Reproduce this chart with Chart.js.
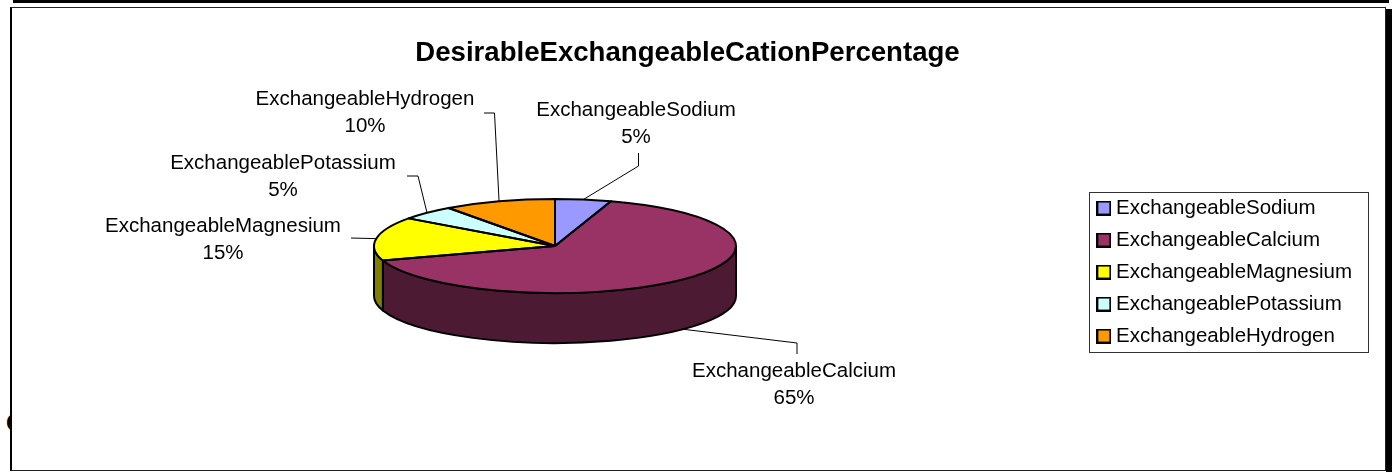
<!DOCTYPE html>
<html>
<head>
<meta charset="utf-8">
<style>
  html, body { margin: 0; padding: 0; background: #fff; overflow: hidden; }
  #page { position: relative; width: 1397px; height: 472px; }
  #topbar { position: absolute; left: 13px; top: 0; width: 1376px; height: 3px; background: #000; }
  #rightbar { position: absolute; left: 1386px; top: 9px; width: 6px; height: 463px; background: #000; }
  #stray { position: absolute; left: 6px; top: 409px; font: bold 24px "Liberation Sans", Arial, sans-serif; }
  #frame { position: absolute; left: 10px; top: 7px; width: 1373px; height: 462px; background: #fff;
           border: solid #222; border-width: 1px 1px 1px 2px; border-left-color: #000; }
  canvas { position: absolute; left: 0; top: 0; }
</style>
</head>
<body>
<div id="page">
  <div id="topbar"></div>
  <div id="rightbar"></div>
  <div id="stray">C</div>
  <div id="frame"></div>
  <canvas id="cationPie" width="1375" height="472"></canvas>
</div>
<script src="https://cdn.jsdelivr.net/npm/chart.js@4/dist/chart.umd.min.js"></script>
<script>
const chartTitle = 'DesirableExchangeableCationPercentage';
const categories = ['ExchangeableSodium', 'ExchangeableCalcium', 'ExchangeableMagnesium', 'ExchangeablePotassium', 'ExchangeableHydrogen'];
const percentages = [5, 65, 15, 5, 10];
const topColors = ['#9999FF', '#993366', '#FFFF00', '#CCFFFF', '#FF9900'];
const wallColors = ['#4D4D80', '#4D1A33', '#808000', '#668080', '#804D00'];

// where the squashed pie sits on the page
const pieShape = { x: 555, y: 246, rx: 181, ry: 47, depth: 50 };
const fontFamily = '"Liberation Sans", Arial, sans-serif';

// label centres and the leader line bends, same order as categories
const labelSpots = [
  { x: 636, y: 110, elbow: [[638.5, 153], [638.5, 166]] },
  { x: 794, y: 371, elbow: [[797, 354], [797, 343]] },
  { x: 223, y: 226, elbow: [[351, 238]] },
  { x: 283, y: 163, elbow: [[407, 176], [418, 176]] },
  { x: 365, y: 99, elbow: [[484, 113], [494.5, 113]] }
];

function rimPoint(a, drop) {
  return [pieShape.x + pieShape.rx * Math.cos(a), pieShape.y + pieShape.ry * Math.sin(a) + (drop || 0)];
}

// legend swatch as a small canvas, chart.js puts text too far from a plain box
function swatch(color) {
  const c = document.createElement('canvas');
  c.width = 15;
  c.height = 15;
  const g = c.getContext('2d');
  g.fillStyle = color;
  g.strokeStyle = '#000';
  g.lineWidth = 2;
  g.fillRect(1, 1, 13, 13);
  g.strokeRect(1, 1, 13, 13);
  return c;
}

const pie3d = {
  id: 'pie3d',
  beforeDatasetsDraw(chart) {
    const ctx = chart.ctx;
    const arcs = chart.getDatasetMeta(0).data;
    ctx.save();
    ctx.lineWidth = 2;
    ctx.strokeStyle = '#000';
    ctx.lineJoin = 'round';
    // front wall, only the part of each slice facing the viewer
    arcs.forEach((arc, i) => {
      const two = Math.PI * 2;
      let s = arc.startAngle, e = arc.endAngle;
      if (e > two) { s -= two; e -= two; }
      const from = Math.max(s, 0), to = Math.min(e, Math.PI);
      if (to <= from) return;
      ctx.beginPath();
      ctx.ellipse(pieShape.x, pieShape.y, pieShape.rx, pieShape.ry, 0, from, to);
      ctx.lineTo(...rimPoint(to, pieShape.depth));
      ctx.ellipse(pieShape.x, pieShape.y + pieShape.depth, pieShape.rx, pieShape.ry, 0, to, from, true);
      ctx.closePath();
      ctx.fillStyle = wallColors[i];
      ctx.fill();
      ctx.stroke();
    });
    ctx.restore();

    // the library draws the slices, flattened into the ellipse
    const first = arcs[0];
    ctx.save();
    ctx.translate(pieShape.x, pieShape.y);
    ctx.scale(pieShape.rx / first.outerRadius, pieShape.ry / first.outerRadius);
    ctx.translate(-first.x, -first.y);
  },
  afterDatasetsDraw(chart) {
    const ctx = chart.ctx;
    const arcs = chart.getDatasetMeta(0).data;
    ctx.restore();
    ctx.save();
    ctx.lineWidth = 2;
    ctx.strokeStyle = '#000';
    ctx.lineJoin = 'round';
    arcs.forEach(arc => {
      ctx.beginPath();
      ctx.moveTo(pieShape.x, pieShape.y);
      ctx.ellipse(pieShape.x, pieShape.y, pieShape.rx, pieShape.ry, 0, arc.startAngle, arc.endAngle);
      ctx.closePath();
      ctx.stroke();
    });
    ctx.restore();

    // labels with leader lines
    ctx.save();
    ctx.font = '20.5px ' + fontFamily;
    ctx.textAlign = 'center';
    ctx.textBaseline = 'middle';
    ctx.lineWidth = 1;
    ctx.strokeStyle = '#000';
    ctx.fillStyle = '#000';
    arcs.forEach((arc, i) => {
      const spot = labelSpots[i];
      const mid = (arc.startAngle + arc.endAngle) / 2;
      const front = Math.sin(mid) > 0;
      const start = rimPoint(mid, front ? pieShape.depth : 0);
      ctx.beginPath();
      ctx.moveTo(...start);
      spot.elbow.slice().reverse().forEach(p => ctx.lineTo(p[0], p[1]));
      ctx.stroke();
      ctx.fillText(categories[i], spot.x, spot.y);
      ctx.fillText(percentages[i] + '%', spot.x, spot.y + 27);
    });
    ctx.restore();

    // legend frame
    ctx.save();
    ctx.strokeStyle = '#333';
    ctx.lineWidth = 1;
    ctx.strokeRect(1089.5, 192.5, 279, 160);
    ctx.restore();
  }
};

new Chart(document.getElementById('cationPie'), {
  type: 'pie',
  data: {
    labels: categories,
    datasets: [{
      data: percentages,
      backgroundColor: topColors,
      borderWidth: 0,
      clip: false
    }]
  },
  options: {
    responsive: false,
    animation: false,
    layout: { padding: { top: 37, right: 13, bottom: 0, left: 13 } },
    plugins: {
      title: {
        display: true,
        text: chartTitle,
        color: '#000',
        font: { family: fontFamily, size: 27.6, weight: 'bold' },
        padding: { top: 0, bottom: 2 }
      },
      legend: {
        position: 'right',
        align: 'center',
        fullSize: false,
        labels: {
          color: '#000',
          usePointStyle: true,
          pointStyleWidth: 4,
          boxHeight: 13,
          padding: 11.5,
          font: { family: fontFamily, size: 20.5 },
          generateLabels(chart) {
            const items = Chart.overrides.pie.plugins.legend.labels.generateLabels(chart);
            items.forEach((item, i) => { item.pointStyle = swatch(topColors[i]); });
            return items;
          }
        }
      },
      tooltip: { enabled: false }
    }
  },
  plugins: [pie3d]
});
</script>
</body>
</html>
